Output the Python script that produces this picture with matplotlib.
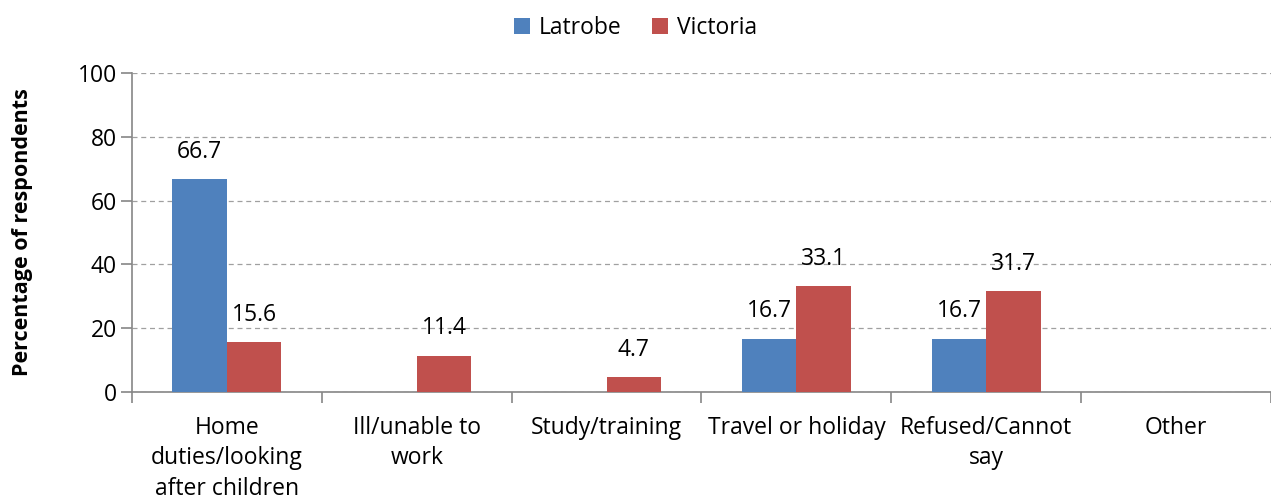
import numpy as np
import matplotlib.pyplot as plt

categories = ['Home\nduties/looking\nafter children', 'Ill/unable to\nwork', 'Study/training',
              'Travel or holiday', 'Refused/Cannot\nsay', 'Other']
latrobe = [66.7, 0, 0, 16.7, 16.7, 0]
victoria = [15.6, 11.4, 4.7, 33.1, 31.7, 0]

plt.rcParams['font.family'] = ['Open Sans', 'DejaVu Sans']
fs = 16.5

fig = plt.figure(figsize=(12.71, 5), dpi=100)
ax = fig.add_axes([132/1271, 108/500, 1139/1271, 319/500])

x = np.arange(len(categories))
w = 0.287
b1 = ax.bar(x - w/2, latrobe, w, color='#4F81BD', label='Latrobe', zorder=3)
b2 = ax.bar(x + w/2, victoria, w, color='#C0504D', label='Victoria', zorder=3)

for bars, vals in [(b1, latrobe), (b2, victoria)]:
    for r, v in zip(bars, vals):
        if v > 0:
            ax.annotate(f'{v:.1f}', (r.get_x() + r.get_width()/2, v), textcoords='offset points',
                        xytext=(0, 11), ha='center', va='bottom', fontsize=fs)

ax.set_xlim(-0.5, len(categories) - 0.5)
ax.set_ylim(0, 100)
ax.set_yticks(range(0, 101, 20))
ax.yaxis.grid(True, linestyle=(0, (4, 3)), color='#A0A0A0', linewidth=0.9, zorder=0)
ax.set_xticks(x)
ax.set_xticklabels(categories, fontsize=fs, linespacing=1.36)
ax.set_xticks(np.arange(-0.5, len(categories)), minor=True)
ax.tick_params(axis='x', which='major', length=0, pad=17)
ax.tick_params(axis='x', which='minor', length=8, color='#868686', width=1.2, direction='out')
ax.tick_params(axis='y', length=8, color='#868686', width=1.2, labelsize=fs, pad=3)
for s in ['top', 'right']:
    ax.spines[s].set_visible(False)
for s in ['left', 'bottom']:
    ax.spines[s].set_color('#868686')
    ax.spines[s].set_linewidth(1.2)

ax.set_ylabel('Percentage of respondents', fontsize=15.5, fontweight='bold', labelpad=32)
fig.legend(handles=[b1, b2], loc='upper center', bbox_to_anchor=(0.5, 1.01), ncol=2, frameon=False,
           fontsize=fs, handlelength=0.7, handleheight=0.7, handletextpad=0.4, columnspacing=1.3)

fig.savefig('out.png', dpi=100)
